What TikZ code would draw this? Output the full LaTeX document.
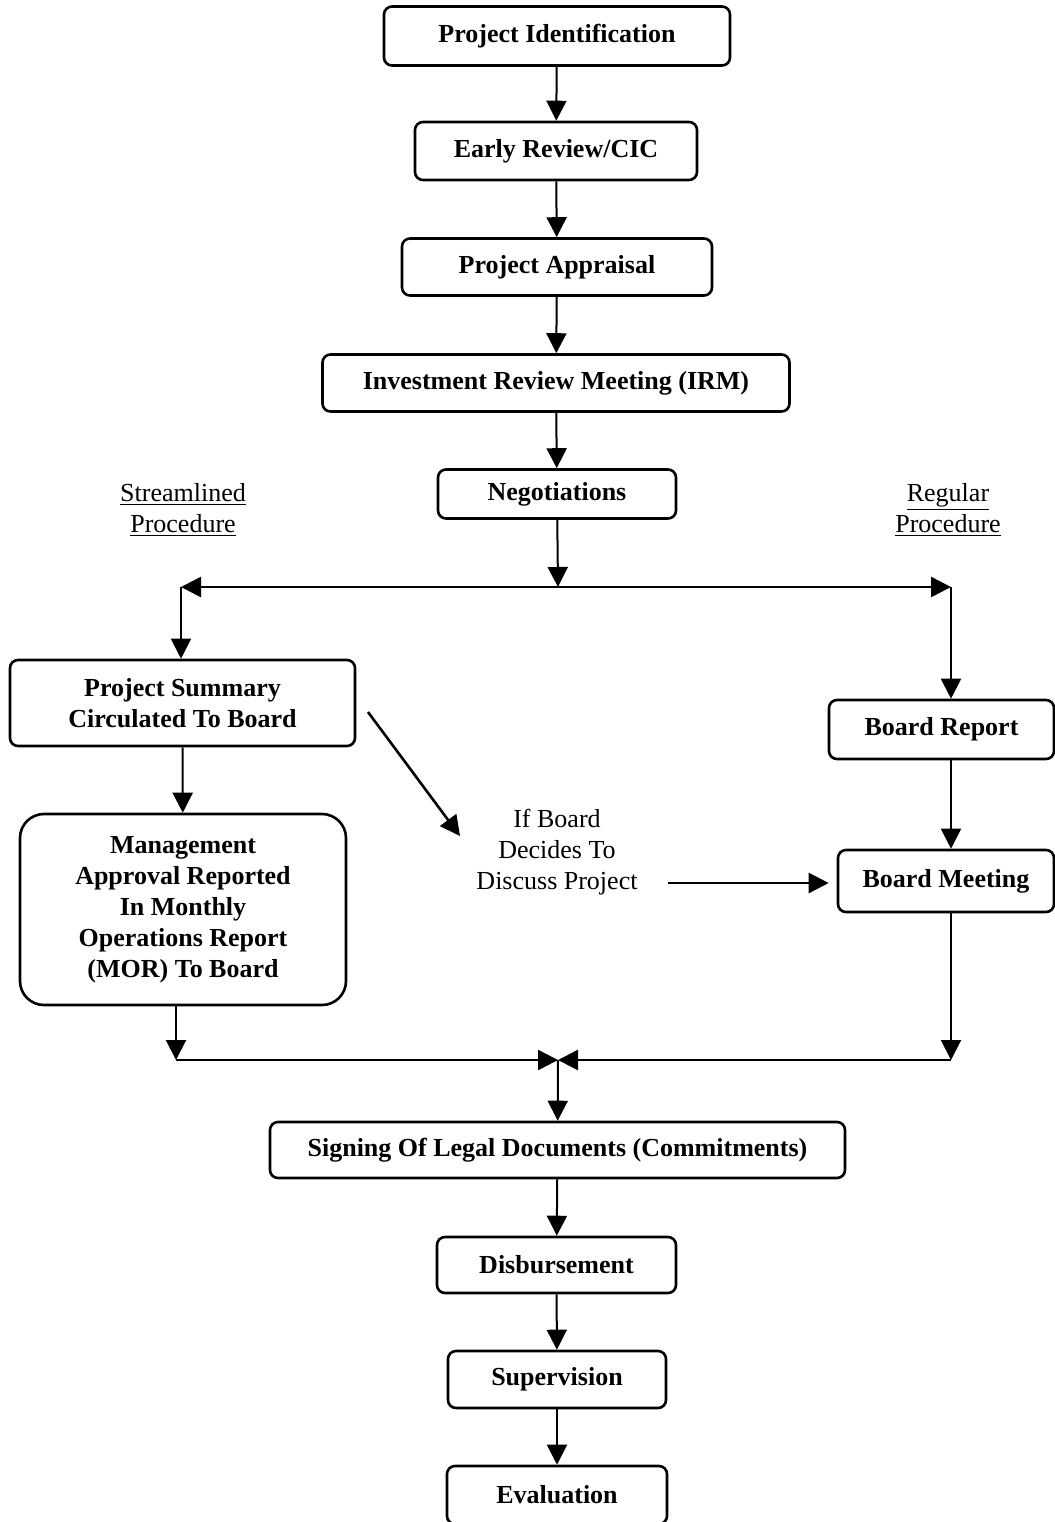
\documentclass[tikz,border=0pt]{standalone}
\usepackage{fontspec}
\setmainfont{Liberation Serif}
\usetikzlibrary{arrows.meta}
\tikzset{
	>={Triangle[length=10pt,width=10pt]},
	stage/.style={draw, line width=1.3pt, rounded corners=4pt, inner sep=0pt, align=center,
			font=\fontsize{13}{15.5}\selectfont\bfseries},
	note/.style={inner sep=0pt, align=center, font=\fontsize{13}{15.5}\selectfont},
	flow/.style={line width=1pt, ->}
}

\begin{document}
\begin{tikzpicture}[x=0.5pt,y=-0.5pt]
			\useasboundingbox (0,0) rectangle (1055,1522);

			\node[stage, minimum width=173pt, minimum height=29.5pt] (ident) at (557,36) {Project Identification};
			\node[stage, minimum width=141pt, minimum height=29pt] (review) at (556,151) {Early Review/CIC};
			\node[stage, minimum width=155pt, minimum height=28.5pt] (apprais) at (557,267) {Project Appraisal};
			\node[stage, minimum width=233.5pt, minimum height=28.5pt] (irm) at (556,383) {Investment Review Meeting (IRM)};
			\node[stage, minimum width=119pt, minimum height=24.5pt] (negot) at (557,494) {Negotiations};

			\node[note] (streamlined) at (183,510) {\underline{Streamlined}\\\underline{Procedure}};
			\node[note] (regular) at (948,510) {\underline{Regular}\\\underline{Procedure}};

			\node[stage, minimum width=172.5pt, minimum height=43pt] (summary) at (182.5,703) {Project Summary\\Circulated To Board};
			\node[stage, rounded corners=12pt, minimum width=163pt, minimum height=95.5pt] (mgmt) at (183,909.5)
				{Management\\Approval Reported\\In Monthly\\Operations Report\\(MOR) To Board};
			\node[stage, minimum width=112.5pt, minimum height=29.5pt] (breport) at (941.5,729.5) {Board Report};
			\node[stage, minimum width=108pt, minimum height=31pt] (bmeet) at (946,881) {Board Meeting};
			\node[note] (ifboard) at (557,852) {If Board\\Decides To\\Discuss Project};

			\node[stage, minimum width=287.5pt, minimum height=28pt] (sign) at (557.5,1150) {Signing Of Legal Documents (Commitments)};
			\node[stage, minimum width=119.5pt, minimum height=28pt] (disb) at (556.5,1265) {Disbursement};
			\node[stage, minimum width=109pt, minimum height=28.5pt] (superv) at (557,1379.5) {Supervision};
			\node[stage, minimum width=110pt, minimum height=29pt] (eval) at (557,1495) {Evaluation};

			\coordinate (split) at (558,587);
			\coordinate (sl) at (181,587);
			\coordinate (sr) at (951,587);
			\coordinate (dstart) at (368,712);
			\coordinate (dend) at (460,836);
			\coordinate (dtail) at (668,883);
			\coordinate (jl) at (176,1060);
			\coordinate (jr) at (951,1060);
			\coordinate (jm) at (558,1060);

			\draw[flow] (ident) -- (review);
			\draw[flow] (review) -- (apprais);
			\draw[flow] (apprais) -- (irm);
			\draw[flow] (irm) -- (negot);
			\draw[flow] (negot) -- (split);
			\draw[line width=1.3pt, <->] (sl) -- (sr);

			\draw[flow] (sl) -- (sl |- summary.north);
			\draw[flow] (summary) -- (mgmt);
			\draw[flow] (sr) -- (sr |- breport.north);
			\draw[flow] (sr |- breport.south) -- (sr |- bmeet.north);
			\draw[flow, line width=1.3pt] (dstart) -- (dend);
			\draw[flow, line width=1.3pt, shorten >=4pt] (dtail) -- (dtail -| bmeet.west);

			\draw[flow] (jl |- mgmt.south) -- (jl);
			\draw[flow] (sr |- bmeet.south) -- (jr);
			\draw[flow, line width=1.3pt] (jl) -- (jm);
			\draw[flow, line width=1.3pt] (jr) -- (jm);
			\draw[flow] (jm) -- (sign);
			\draw[flow] (sign) -- (disb);
			\draw[flow] (disb) -- (superv);
			\draw[flow] (superv) -- (eval);
		\end{tikzpicture}
\end{document}
